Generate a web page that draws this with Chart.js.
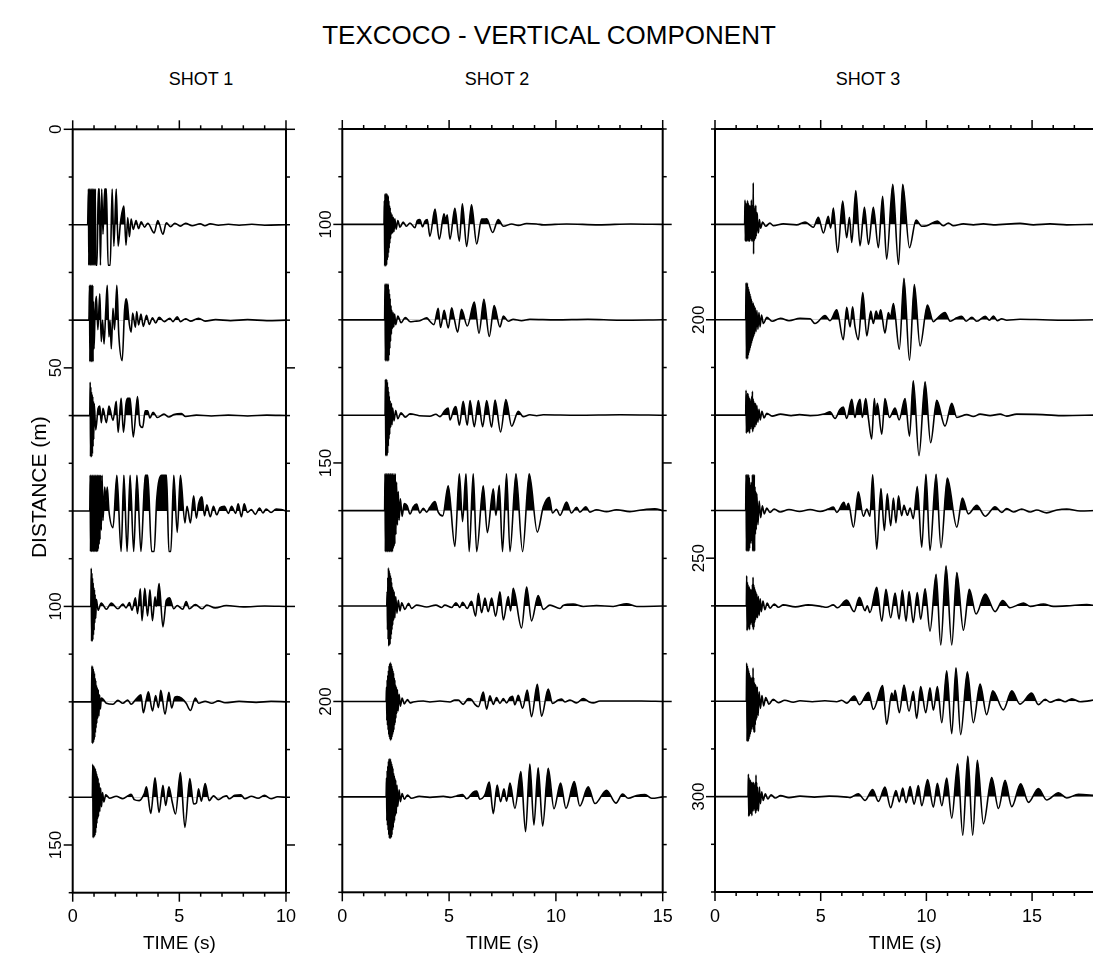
<!DOCTYPE html>
<html>
<head>
<meta charset="utf-8">
<script src="https://cdn.jsdelivr.net/npm/chart.js@4/dist/chart.umd.min.js"></script>
<style>
  body { margin: 0; background: #fff; width: 1093px; height: 960px; overflow: hidden; position: relative; font-family: 'Liberation Sans', Arial, sans-serif; color: #000; }
  .lbl { position: absolute; text-align: center; white-space: nowrap; }
  canvas { position: absolute; top: 100px; }
</style>
</head>
<body>
<div class="lbl" style="left:299px;width:500px;top:20px;font-size:26px">TEXCOCO - VERTICAL COMPONENT</div>
<div class="lbl" style="left:151px;width:100px;top:69px;font-size:18px">SHOT 1</div>
<div class="lbl" style="left:447px;width:100px;top:69px;font-size:18px">SHOT 2</div>
<div class="lbl" style="left:818px;width:100px;top:69px;font-size:18px">SHOT 3</div>
<canvas id="c1" width="310" height="860" style="left:0px"></canvas>
<canvas id="c2" width="390" height="860" style="left:300px"></canvas>
<canvas id="c3" width="440" height="860" style="left:680px"></canvas>
<script>
// trace offsets (m) and y tick labels for each shot
const shot1Dist = [20, 40, 60, 80, 100, 120, 140];
const shot2Dist = [100, 120, 140, 160, 180, 200, 220];
const shot3Dist = [180, 200, 220, 240, 260, 280, 300];
const shot1YLabels = [0, 50, 100, 150];
const shot2YLabels = [100, 150, 200];
const shot3YLabels = [200, 250, 300];
const xLabels = [0, 5, 10, 15];

// traces: [time (s), amplitude (m, up positive)]
const s1_20 = [[0,0],[0.7,0],[0.74,7.5],[0.755,-8.5],[0.77,7.5],[0.785,-8.5],[0.8,7.5],[0.815,-8.5],[0.83,7.5],[0.845,-8.5],[0.86,7.5],[0.875,-8.5],[0.89,7.5],[0.905,-8.5],[0.92,7.5],[0.935,-8.5],[0.95,7.5],[0.965,-8.5],[0.98,7.5],[1.0,-8.5],[1.02,7.5],[1.04,-8.5],[1.06,7.5],[1.08,-8.5],[1.14,-8.5],[1.2,7.5],[1.25,7.5],[1.3,-8.5],[1.36,7.5],[1.42,-2],[1.5,7.5],[1.58,7.5],[1.66,-8.5],[1.76,-8.5],[1.85,7.5],[1.93,-4.5],[2.04,7.5],[2.13,-4.5],[2.24,0.5],[2.4,3.9],[2.5,-4.3],[2.58,1.5],[2.66,-2.5],[2.74,1.2],[2.84,-1],[2.97,0.9],[3.09,-0.8],[3.21,0.6],[3.37,-0.5],[3.52,0.3],[3.82,-1.7],[3.99,0.9],[4.23,-2.0],[4.39,0.4],[4.59,-0.4],[4.79,0.3],[5.05,-0.3],[5.29,0.3],[5.6,-0.2],[5.98,0.2],[6.2,-0.2],[6.45,0.2],[6.83,-0.1],[7.3,0.1],[7.8,-0.1],[8.4,0.1],[9.0,-0.1],[10,0]];
const s1_40 = [[0,0],[0.76,0],[0.79,7.3],[0.805,-8.7],[0.82,7.3],[0.835,-8.7],[0.85,7.3],[0.865,-8.7],[0.88,7.3],[0.895,-8.7],[0.91,7.3],[0.925,-8.7],[0.94,7.3],[0.955,-8.7],[0.97,4],[1.0,-6],[1.05,2],[1.11,5],[1.18,-2],[1.27,5.5],[1.34,-4.5],[1.4,0],[1.47,-5],[1.55,2],[1.62,7.3],[1.7,-3.5],[1.75,0],[1.81,-6],[1.89,2.5],[1.96,-2],[2.07,7.3],[2.16,-3],[2.32,-8.5],[2.43,2],[2.5,4.5],[2.56,3.5],[2.66,-1],[2.74,-2.5],[2.81,1.5],[2.94,-1.5],[3.0,1.8],[3.09,-1],[3.2,1.3],[3.31,-1.3],[3.46,1],[3.59,-0.9],[3.74,0.5],[3.89,-0.6],[4.05,0.6],[4.3,-0.3],[4.55,0.4],[4.7,-0.3],[4.9,0.7],[5.05,-0.3],[5.29,0.3],[5.52,-0.2],[5.9,0.4],[6.21,-0.2],[6.7,0.1],[7.4,-0.1],[8.2,0.1],[9.1,-0.1],[10,0]];
const s1_60 = [[0,0],[0.8,0],[0.82,7],[0.835,-8.6],[0.85,6],[0.865,-8.6],[0.88,5],[0.895,-8.6],[0.91,4.5],[0.925,-8],[0.94,4],[0.955,-6.5],[0.97,3],[0.985,-5],[1.01,2.5],[1.08,-3],[1.19,1.5],[1.27,2],[1.34,-1.5],[1.42,1.5],[1.58,-1.5],[1.7,2],[1.89,-1],[2.04,3],[2.13,-3.5],[2.27,3.6],[2.38,-3.5],[2.5,2.5],[2.58,3.6],[2.69,3.6],[2.84,-4.5],[3.04,4],[3.15,-2],[3.28,-2.5],[3.4,1],[3.51,1],[3.62,-0.5],[3.77,0.7],[3.97,-0.4],[4.28,0.3],[4.51,-0.3],[4.74,0.2],[5.1,0.4],[5.29,-0.2],[5.8,0.1],[6.5,-0.1],[7.3,0.1],[8.2,-0.1],[9.1,0.1],[10,0]];
const s1_80 = [[0,0],[0.8,0],[0.82,7.5],[0.835,-8.5],[0.85,7.5],[0.865,-8.5],[0.88,7.5],[0.895,-8.5],[0.91,7.5],[0.925,-8.5],[0.94,7.5],[0.955,-8.5],[0.97,7.5],[0.985,-8.5],[1.0,7.5],[1.015,-8.5],[1.03,7.5],[1.045,-8.5],[1.06,7.5],[1.075,-8.5],[1.09,7.5],[1.105,-8.5],[1.12,7.5],[1.135,-8.5],[1.15,7.5],[1.165,-8.5],[1.18,7.5],[1.2,-8],[1.22,7.5],[1.24,-7],[1.26,7.5],[1.28,-6],[1.31,7.5],[1.34,-4],[1.38,7.5],[1.42,-2],[1.5,5],[1.56,2],[1.62,5],[1.7,0],[1.89,-3.5],[2.07,7.5],[2.27,-8.5],[2.4,7.5],[2.55,-8.5],[2.69,7.5],[2.86,-8.5],[3.01,7.5],[3.2,-8.5],[3.4,7.5],[3.52,7.5],[3.7,-8.5],[3.82,-8.5],[3.94,2.5],[4.17,7.5],[4.4,7.5],[4.51,-8.5],[4.6,-8.5],[4.74,7.5],[4.9,-4.5],[5.05,7.5],[5.26,-2.5],[5.36,1],[5.52,-2.5],[5.67,3.2],[5.8,-1.5],[5.9,1.5],[6.06,3],[6.18,-1],[6.29,1.3],[6.45,-1.2],[6.6,1],[6.75,-0.8],[6.91,0.7],[7.11,1],[7.3,-0.5],[7.45,1],[7.64,-0.5],[7.76,1.5],[7.91,-1.2],[8.04,1.5],[8.19,-0.3],[8.38,0.3],[8.56,-0.7],[8.76,0.6],[8.92,-0.4],[9.07,0.4],[9.3,-0.3],[9.54,0.4],[9.77,0.3],[10,0]];
const s1_100 = [[0,0],[0.85,0],[0.87,8],[0.885,-7.3],[0.9,7],[0.915,-7.3],[0.93,6],[0.945,-7],[0.96,5],[0.975,-6],[0.99,4],[1.005,-5],[1.02,3.5],[1.035,-3.5],[1.05,2.5],[1.08,-2.5],[1.11,1.5],[1.19,-0.8],[1.34,0.7],[1.58,-0.6],[1.81,0.7],[2.12,-0.5],[2.35,0.5],[2.5,-0.3],[2.66,0.8],[2.78,-0.8],[2.94,1.8],[3.04,-1.5],[3.17,3.7],[3.25,-3],[3.38,3.8],[3.51,-2],[3.62,3.5],[3.74,-3],[3.86,2],[3.92,0],[4.05,4.8],[4.23,-4.3],[4.39,1.3],[4.54,1.8],[4.74,-0.5],[4.9,0.2],[5.16,-0.6],[5.32,1],[5.47,-0.5],[5.75,0.4],[6.06,-0.5],[6.29,0.3],[6.68,-0.3],[7.2,0.2],[8,-0.1],[9,0.1],[10,0]];
const s1_120 = [[0,0],[0.88,0],[0.9,7.5],[0.915,-8.7],[0.93,7.5],[0.945,-8.7],[0.96,7],[0.975,-8.5],[0.99,6.5],[1.005,-8],[1.02,6],[1.035,-7.5],[1.05,5],[1.065,-6.5],[1.08,4.5],[1.095,-5.5],[1.11,3.5],[1.13,-4.5],[1.15,3],[1.17,-3.5],[1.2,2.5],[1.23,-3],[1.26,1.5],[1.3,-1.5],[1.34,0.8],[1.42,0.6],[1.58,-0.3],[1.89,-0.5],[2.12,0.3],[2.35,-0.3],[2.58,0.4],[2.74,-0.5],[2.97,0.6],[3.2,1.5],[3.31,-2.3],[3.45,0.5],[3.55,2.1],[3.74,-1.9],[3.89,1.3],[4.02,-1.2],[4.13,2.4],[4.33,-2.6],[4.51,2.0],[4.64,-1.3],[4.79,1],[4.9,1.1],[5.1,0.8],[5.32,-0.3],[5.52,-1.8],[5.75,0.8],[5.9,-0.3],[6.21,0.1],[6.52,-0.3],[6.83,0.2],[7.14,-0.2],[7.8,0.1],[8.6,-0.1],[9.3,0.1],[10,0]];
const s1_140 = [[0,0],[0.92,0],[0.94,6.9],[0.955,-8.5],[0.97,6.7],[0.985,-8.4],[1.0,6.5],[1.015,-8.3],[1.03,6.2],[1.045,-8],[1.06,6],[1.075,-7.5],[1.09,5.5],[1.105,-6.5],[1.12,5],[1.135,-5.5],[1.15,4.5],[1.17,-4.5],[1.19,4],[1.21,-4],[1.24,3],[1.27,-3],[1.31,2],[1.35,-2],[1.4,1],[1.46,-1],[1.55,0.5],[1.73,-0.2],[2.04,0.2],[2.35,-0.3],[2.58,0.3],[2.74,0.6],[2.89,-0.5],[3.12,-0.7],[3.35,0.7],[3.46,2.2],[3.66,-3.4],[3.86,4.1],[4.05,-3.2],[4.23,2.5],[4.36,-1.7],[4.51,2.2],[4.67,-1.1],[4.82,-3.5],[5.05,5.2],[5.26,-6.3],[5.49,3.9],[5.67,-1.4],[5.8,-1.2],[5.9,1.8],[6.03,-0.8],[6.21,2.9],[6.4,-0.7],[6.6,0.3],[6.83,-0.5],[7.06,0.1],[7.22,0.3],[7.33,-0.3],[7.6,0.4],[7.88,0.5],[8.07,-0.3],[8.38,0.2],[8.69,-0.2],[8.99,0.4],[9.3,-0.3],[9.61,0.1],[10,0]];

const s2_100 = [[0,0],[1.95,0],[1.97,5],[1.985,-8.7],[2.0,6.4],[2.015,-8.7],[2.03,6.4],[2.045,-8.7],[2.06,6.4],[2.075,-8.5],[2.09,6.4],[2.105,-7.5],[2.12,6.2],[2.135,-7],[2.15,6],[2.165,-6],[2.18,5],[2.195,-5],[2.21,4],[2.225,-4],[2.24,3.5],[2.26,-3],[2.28,2.5],[2.3,-2],[2.33,2],[2.36,-1.8],[2.39,1.5],[2.42,-1.5],[2.46,1.2],[2.52,-1],[2.6,0.8],[2.7,-0.6],[2.85,0.5],[3.0,-0.4],[3.17,0.3],[3.4,-0.7],[3.51,0.8],[3.63,1.0],[3.76,-0.5],[3.87,0.7],[3.98,1],[4.1,-2.5],[4.34,3.2],[4.54,-3.1],[4.76,2.2],[4.84,0.8],[4.91,2.0],[5.04,-3.1],[5.27,3.4],[5.48,-3.5],[5.62,4.3],[5.82,-4.6],[6.05,4.1],[6.29,-4.1],[6.52,1.1],[6.63,1.1],[6.76,1.2],[7.04,-1.7],[7.3,1],[7.54,-0.4],[7.93,0.1],[8.24,-0.2],[8.63,0.2],[9.1,0.1],[9.41,-0.1],[10.5,0.1],[12,-0.1],[13.5,0.1],[15,0]];
const s2_120 = [[0,0],[1.98,0],[2.0,7.5],[2.015,-8.6],[2.03,7.5],[2.045,-8.6],[2.06,7.5],[2.075,-8.6],[2.09,7.5],[2.105,-8.6],[2.12,7.5],[2.135,-8.6],[2.15,7.5],[2.165,-8.6],[2.18,6.5],[2.195,-7.5],[2.21,5.5],[2.225,-6],[2.24,4.5],[2.26,-4.5],[2.28,3],[2.3,-3],[2.32,2],[2.35,-1.8],[2.38,1.5],[2.41,-1.5],[2.45,1.2],[2.5,-1],[2.6,0.8],[2.75,-0.6],[2.95,0.5],[3.17,-0.4],[3.4,-0.3],[3.63,-0.2],[3.95,0.4],[4.1,-0.3],[4.29,-1],[4.49,2.4],[4.6,-1.6],[4.77,2],[4.96,-1.7],[5.12,2.5],[5.23,0.5],[5.4,-2.6],[5.58,2.2],[5.85,-1.3],[6.18,3.7],[6.4,-2.8],[6.63,4.3],[6.88,-3.5],[7.11,3.0],[7.38,-1.5],[7.54,0.8],[7.77,-0.3],[8.0,0.1],[8.39,-0.2],[8.78,0.1],[10,0],[11.5,0.1],[13,-0.1],[15,0]];
const s2_140 = [[0,0],[2.0,0],[2.02,7.5],[2.035,-8.5],[2.05,7.5],[2.065,-8.5],[2.08,7.5],[2.095,-8.5],[2.11,7],[2.125,-8],[2.14,6],[2.155,-6.5],[2.17,5],[2.185,-5],[2.2,4],[2.22,-4],[2.24,3],[2.27,-2.5],[2.3,2.5],[2.33,-2],[2.36,1.5],[2.42,-1.2],[2.5,1],[2.6,-0.7],[2.75,0.5],[2.95,-0.4],[3.17,0.3],[3.6,-0.1],[4.1,-0.2],[4.38,0.2],[4.57,-0.3],[4.8,1],[4.96,1.5],[5.04,-1],[5.23,1.4],[5.32,1.8],[5.48,-2.1],[5.66,2.9],[5.85,-2.1],[5.98,3.1],[6.18,-2.4],[6.37,3.1],[6.57,-2.4],[6.76,3.1],[6.99,-2.5],[7.15,3.2],[7.41,-3.5],[7.66,3.3],[7.93,-2.3],[8.24,0.8],[8.47,-0.3],[8.78,0.1],[9.1,-0.1],[9.41,0.1],[11,0],[13,0.1],[15,0]];
const s2_160 = [[0,0],[1.98,0],[2.0,7.7],[2.015,-8.6],[2.03,7.7],[2.045,-8.6],[2.06,7.7],[2.075,-8.6],[2.09,7.7],[2.105,-8.6],[2.12,7.7],[2.135,-8.6],[2.15,7.7],[2.165,-8.6],[2.18,7.7],[2.195,-8.6],[2.21,7.7],[2.225,-8.6],[2.24,7.7],[2.255,-8.6],[2.27,7.7],[2.285,-8.6],[2.3,7.7],[2.315,-8.6],[2.33,7.7],[2.345,-8.6],[2.36,7.7],[2.38,-8],[2.4,7.7],[2.42,-7.5],[2.44,7.7],[2.46,-7],[2.48,7.7],[2.51,-5],[2.54,6],[2.58,-3],[2.62,4],[2.66,-2],[2.72,2.5],[2.8,-1.2],[2.9,1.5],[3.04,1],[3.17,-0.7],[3.32,0.8],[3.48,1.4],[3.63,-0.5],[3.79,0.5],[3.95,-0.3],[4.1,0.7],[4.34,1.9],[4.49,-0.3],[4.7,-1.1],[4.96,5.2],[5.27,-7.5],[5.48,7.7],[5.63,-2.3],[5.79,7.7],[5.94,-8.6],[6.13,7.7],[6.29,-8.6],[6.6,5.2],[6.79,-4.6],[7.07,4.6],[7.19,-1],[7.35,5.3],[7.5,-8.6],[7.69,7.7],[7.85,-8.6],[8.13,7.7],[8.44,-8.6],[8.75,7.7],[9.13,-4.5],[9.41,0.8],[9.69,2.8],[9.84,-0.5],[10.03,0.3],[10.19,-1],[10.5,1.8],[10.73,-0.5],[10.97,0.7],[11.12,-0.3],[11.4,0.8],[11.59,-0.3],[11.9,0.2],[12.37,-0.2],[12.84,0.2],[13.46,-0.2],[14.24,0.3],[14.63,0.4],[15,0]];
const s2_180 = [[0,0],[2.08,0],[2.1,3],[2.115,-5],[2.13,6],[2.145,-7],[2.16,8],[2.175,-8.4],[2.19,7.5],[2.205,-8.2],[2.22,7],[2.235,-8],[2.25,6.5],[2.265,-7],[2.28,6],[2.295,-6],[2.31,5],[2.325,-5],[2.34,4],[2.36,-4],[2.38,3.5],[2.4,-3],[2.43,3],[2.46,-2.5],[2.5,2],[2.56,-1.5],[2.62,1.2],[2.7,-1],[2.78,0.7],[2.93,-0.7],[3.1,0.6],[3.24,-0.5],[3.48,0.2],[3.95,-0.2],[4.38,0.2],[4.65,-0.3],[4.8,0.2],[5.12,-0.3],[5.32,0.7],[5.51,-0.3],[5.63,0.8],[5.85,-0.5],[6.05,1.0],[6.24,-2.1],[6.37,2.7],[6.52,-1.4],[6.68,1.7],[6.83,-1.2],[6.99,1.7],[7.18,-2.1],[7.38,3.0],[7.54,-2.9],[7.77,2.0],[7.88,-1],[8.0,3.7],[8.39,-4.6],[8.63,4.0],[8.86,-3.1],[9.17,2.2],[9.41,-0.7],[9.72,0.2],[10.19,-0.5],[10.34,0.1],[10.81,0.4],[11.28,-0.1],[11.9,0.1],[12.68,-0.1],[13.31,0.5],[13.78,-0.1],[15,0]];
const s2_200 = [[0,0],[2.05,0],[2.07,3],[2.085,-4],[2.1,4.5],[2.115,-5],[2.13,5.5],[2.145,-6],[2.16,6.5],[2.175,-7],[2.19,7.5],[2.205,-7.5],[2.22,8],[2.235,-8],[2.25,8.2],[2.265,-8.2],[2.28,8],[2.295,-8],[2.31,7.5],[2.325,-7.5],[2.34,7],[2.355,-7],[2.37,6.5],[2.385,-6.5],[2.4,6],[2.415,-6],[2.43,5],[2.445,-5],[2.46,4.5],[2.475,-4.5],[2.49,3.5],[2.51,-3.5],[2.53,3],[2.55,-2.5],[2.58,2.5],[2.61,-2],[2.66,1.5],[2.72,-1],[2.8,0.7],[2.9,-0.5],[3.05,0.4],[3.17,-0.3],[3.32,-0.1],[3.79,0.1],[4.1,-0.1],[4.57,0.1],[5.04,-0.1],[5.27,0.3],[5.43,0.3],[5.66,-0.6],[5.9,0.6],[6.05,0.4],[6.21,-0.6],[6.37,-1.1],[6.6,2.0],[6.76,-1.6],[6.91,1.2],[7.07,-0.6],[7.22,0.8],[7.38,-0.4],[7.54,0.6],[7.69,-0.3],[7.85,0.8],[7.97,1.1],[8.08,-0.7],[8.24,1.3],[8.44,-1.4],[8.66,2.4],[8.86,-3.2],[9.13,3.6],[9.33,-3.1],[9.64,2.6],[9.84,-0.4],[10.11,0.3],[10.27,0.5],[10.42,-0.1],[10.66,0.3],[10.97,-0.3],[11.28,0.6],[11.56,-0.1],[11.75,-0.3],[12.06,0.1],[13,0.1],[14,0.1],[15,0]];
const s2_220 = [[0,0],[2.05,0],[2.07,4],[2.085,-5],[2.1,5.5],[2.115,-6],[2.13,6.5],[2.145,-7],[2.16,7.5],[2.175,-8],[2.19,8],[2.205,-8.7],[2.22,8],[2.235,-8.7],[2.25,8],[2.265,-8.7],[2.28,7.5],[2.295,-8.5],[2.31,7],[2.325,-8],[2.34,6.5],[2.355,-7],[2.37,6],[2.385,-6.5],[2.4,5],[2.415,-5.5],[2.43,4.5],[2.445,-5],[2.46,4],[2.48,-4],[2.5,3.5],[2.53,-3.5],[2.56,2.5],[2.6,-2],[2.66,1.5],[2.72,-1],[2.8,0.7],[2.9,-0.5],[3.05,0.4],[3.24,-0.3],[3.6,0.1],[4.1,-0.1],[4.73,0.1],[5.04,-0.1],[5.35,0.2],[5.63,0.5],[5.82,-0.4],[6.13,1.0],[6.29,1.2],[6.44,-0.5],[6.68,0.5],[6.88,3.1],[7.07,-3.5],[7.25,2.5],[7.41,-1],[7.57,1.7],[7.69,-0.9],[7.85,2.9],[8.08,-2.4],[8.36,5.3],[8.58,-7.3],[8.78,6.9],[8.97,-5.9],[9.17,6.1],[9.38,-6.1],[9.64,6.0],[9.91,-2.5],[10.22,2.9],[10.47,-2.4],[10.86,3.2],[11.12,-1.9],[11.51,2.1],[11.83,-1.4],[12.37,1.4],[12.81,-1.3],[13.12,0.6],[13.39,-0.3],[13.78,0.3],[14.17,0.5],[14.48,-0.3],[15,0]];

const s3_180 = [[0,0],[1.4,0],[1.42,5.1],[1.435,-3.5],[1.45,4.5],[1.465,-3.5],[1.48,4],[1.495,-3.5],[1.51,4.5],[1.525,-3.5],[1.54,5],[1.555,-3],[1.57,4.5],[1.585,-3.5],[1.6,4],[1.615,-3.5],[1.63,4],[1.645,-3.5],[1.66,3.5],[1.675,-3],[1.69,4],[1.705,-3],[1.72,5.1],[1.735,-3.5],[1.75,4],[1.765,-3.5],[1.78,4],[1.795,-3],[1.81,8.7],[1.825,-6.2],[1.84,4],[1.855,-3.5],[1.87,3],[1.885,-3],[1.9,3.5],[1.915,-3],[1.93,4],[1.95,-2.5],[1.97,2.5],[2.0,2],[2.03,-1.8],[2.06,-1.5],[2.1,1],[2.16,-0.8],[2.25,0.5],[2.4,-0.4],[2.6,0.3],[2.76,-0.3],[3.23,0.1],[3.86,-0.1],[4.26,0.5],[4.5,-0.2],[4.65,-0.6],[4.89,1.5],[5.13,-1.8],[5.36,1.7],[5.47,-0.8],[5.6,3.4],[5.8,-5.9],[6.04,4.9],[6.23,-2.8],[6.36,1.5],[6.47,-3.8],[6.66,7.1],[6.86,-4.5],[7.07,3.6],[7.26,-4.2],[7.49,3.6],[7.73,-4.9],[7.93,5.9],[8.12,-7.3],[8.41,8.4],[8.68,-8.4],[8.88,8.4],[9.2,-4.9],[9.51,0.9],[9.78,-0.4],[10.02,-0.3],[10.52,0.7],[10.8,-0.3],[11.04,0.3],[11.28,-0.3],[11.75,0.1],[12.22,-0.1],[12.7,0.1],[13.17,-0.1],[14.43,0.2],[15.06,-0.1],[15.85,0.1],[16.64,-0.1],[18,0]];
const s3_200 = [[0,0],[1.45,0],[1.47,7.7],[1.485,-8.2],[1.5,7.7],[1.515,-8.2],[1.53,7.7],[1.545,-8.2],[1.56,7],[1.575,-7.5],[1.59,6.5],[1.605,-7],[1.62,6],[1.635,-6.5],[1.65,5.5],[1.665,-6],[1.68,5],[1.695,-5.5],[1.71,4.5],[1.725,-5],[1.74,4],[1.755,-4.5],[1.77,3.5],[1.79,-4],[1.81,3.5],[1.83,-3.5],[1.85,3],[1.87,-3],[1.9,2.5],[1.94,-2.5],[1.98,2],[2.03,-2],[2.08,1.5],[2.13,-1.5],[2.2,1],[2.29,-0.8],[2.45,0.5],[2.7,-0.3],[3.1,0.3],[3.5,-0.2],[4.02,0.3],[4.5,0.2],[4.73,-0.8],[5.21,0.9],[5.44,-0.2],[5.76,2.1],[6.07,-4.2],[6.23,2.6],[6.39,-1.5],[6.51,2.7],[6.62,-1.4],[6.78,-4.2],[6.99,5.7],[7.18,-3.4],[7.37,1.8],[7.49,-0.8],[7.62,1.8],[7.73,0.5],[7.84,2.1],[8.04,-2.8],[8.2,1.5],[8.3,0.5],[8.44,3.4],[8.72,-6.2],[8.94,8.7],[9.2,-8.5],[9.43,7.4],[9.7,-5.5],[10.05,3.1],[10.33,-0.4],[10.49,0.2],[10.88,1.5],[11.12,-0.3],[11.44,0.4],[11.67,0.7],[11.88,-0.3],[12.15,0.5],[12.38,-0.3],[12.78,0.7],[12.98,-0.1],[13.17,0.8],[13.36,-0.2],[13.56,0.2],[13.8,-0.1],[14.43,0.1],[15.5,0],[16.5,-0.1],[18,0]];
const s3_220 = [[0,0],[1.45,0],[1.47,5.2],[1.485,-3.8],[1.5,4],[1.515,-3.5],[1.53,4.5],[1.545,-3.5],[1.56,4.5],[1.575,-3],[1.59,4],[1.605,-3.5],[1.62,3.5],[1.635,-3.8],[1.65,3.5],[1.665,-3],[1.68,3],[1.695,-2.5],[1.71,3],[1.725,-2.5],[1.74,4],[1.755,-3],[1.77,5],[1.785,-3.5],[1.8,3.5],[1.815,-3],[1.83,3],[1.85,-2.5],[1.87,2.5],[1.89,-2.5],[1.92,2.5],[1.95,-2],[1.98,2],[2.03,-1.5],[2.08,1.2],[2.14,-1],[2.22,0.8],[2.32,-0.6],[2.45,0.4],[2.7,-0.2],[3.1,0.2],[3.6,-0.1],[4.0,0.1],[4.5,-0.1],[5.21,0.3],[5.44,0.7],[5.68,-0.7],[5.91,1.2],[6.07,1.7],[6.23,-0.7],[6.47,3.3],[6.62,-0.5],[6.73,1.9],[6.86,3.3],[6.97,-0.5],[7.13,3.5],[7.26,-0.8],[7.41,-5],[7.54,3.5],[7.6,0],[7.68,2.5],[7.89,-4],[8.04,3.5],[8.25,-0.5],[8.52,1.5],[8.71,-1],[8.99,3.5],[9.2,-4.4],[9.38,7.2],[9.65,-8.5],[9.94,7.0],[10.2,-5.8],[10.49,3.1],[10.88,-2.3],[11.2,2.5],[11.44,-0.5],[11.91,0.1],[12.22,-0.3],[12.54,0.2],[13.01,-0.1],[13.49,0.2],[13.8,-0.2],[14.27,0.2],[15.5,0.1],[16.5,-0.1],[18,0]];
const s3_240 = [[0,0],[1.45,0],[1.47,7.5],[1.485,-8.5],[1.5,7.5],[1.515,-8.5],[1.53,7.5],[1.545,-8.5],[1.56,7.5],[1.575,-8.5],[1.59,7.5],[1.605,-8.5],[1.62,7],[1.635,-8],[1.65,6],[1.665,-7],[1.68,5.5],[1.695,-6.5],[1.71,5],[1.725,-6],[1.74,6],[1.755,-7],[1.77,7.5],[1.785,-8.5],[1.8,7.5],[1.815,-8.5],[1.83,7.5],[1.845,-8.5],[1.86,7.5],[1.875,-8.5],[1.89,5],[1.91,-5],[1.93,4],[1.95,-4],[1.98,3.5],[2.03,-3],[2.09,2],[2.16,-1.5],[2.24,1],[2.33,-0.7],[2.45,0.5],[2.6,-0.4],[2.8,0.3],[3.08,-0.3],[3.5,0.2],[4.0,-0.2],[4.5,0.2],[4.97,-0.2],[5.36,0.3],[5.6,0.7],[5.76,-0.4],[6.1,1.7],[6.2,0.5],[6.31,1.5],[6.55,-3.5],[6.78,3.9],[7.02,-1.2],[7.18,0.3],[7.33,-1.2],[7.46,7.5],[7.65,-8.1],[7.85,4.6],[8.01,-4.2],[8.15,3.5],[8.31,-3.2],[8.44,2.6],[8.56,-2.6],[8.68,3.1],[8.83,-1.1],[8.94,1.1],[9.1,-1],[9.23,0.5],[9.38,-1.7],[9.57,5.0],[9.78,-7.7],[9.98,7.6],[10.17,-8.4],[10.46,7.6],[10.69,-7.8],[10.99,6.8],[11.44,-3.5],[11.7,2.6],[11.99,-0.7],[12.38,1.1],[12.78,-1.2],[13.25,0.8],[13.56,-0.4],[13.8,0.4],[14.12,-0.3],[14.51,0.3],[14.91,-0.3],[15.22,0.1],[15.69,-0.5],[16.17,0.1],[16.64,0.3],[17.27,-0.1],[18,0]];
const s3_260 = [[0,0],[1.48,0],[1.5,6.3],[1.515,-5.2],[1.53,5],[1.545,-5],[1.56,4.5],[1.575,-4.5],[1.59,4],[1.605,-4.5],[1.62,4],[1.635,-5],[1.65,3.5],[1.665,-4],[1.68,3.5],[1.695,-3.5],[1.71,3],[1.725,-3.5],[1.74,3.5],[1.755,-4],[1.77,4.5],[1.785,-4.5],[1.8,6],[1.815,-5],[1.83,4.5],[1.845,-4.5],[1.86,4],[1.875,-3.5],[1.89,3.5],[1.91,-3],[1.93,3],[1.95,-2.5],[1.98,2.5],[2.01,-2.5],[2.05,2],[2.09,-2],[2.14,1.5],[2.19,-1.2],[2.27,1],[2.36,-0.8],[2.47,0.6],[2.6,-0.5],[2.8,0.4],[3.0,-0.3],[3.23,0.2],[3.8,-0.2],[4.4,0.2],[5.0,-0.1],[5.28,-0.3],[5.6,0.2],[5.79,-0.4],[6.23,1.2],[6.58,-1.2],[6.83,1.8],[7.1,-1.0],[7.2,0],[7.33,-1.4],[7.65,3.9],[7.89,-3.2],[8.09,3.5],[8.31,-2.5],[8.52,2.7],[8.71,-2.8],[8.86,3.3],[9.04,-3.2],[9.18,3.0],[9.38,-3.5],[9.57,2.8],[9.73,-2.8],[9.94,3.6],[10.17,-5.3],[10.46,6.6],[10.68,-8.2],[10.93,8.4],[11.2,-8.2],[11.44,7.0],[11.75,-5.1],[12.03,3.5],[12.35,-1.7],[12.78,2.5],[13.25,-1.2],[13.61,1.1],[13.96,-0.4],[14.27,0.1],[14.59,0.6],[14.91,-0.1],[15.54,0.4],[16.01,-0.1],[16.64,0],[17.59,0.3],[18,0]];
const s3_280 = [[0,0],[1.48,0],[1.5,8],[1.515,-8.4],[1.53,7.5],[1.545,-8.4],[1.56,7],[1.575,-8.4],[1.59,6.5],[1.605,-8],[1.62,6],[1.635,-7.5],[1.65,5.5],[1.665,-7],[1.68,5],[1.695,-6.5],[1.71,5],[1.725,-6],[1.74,4.5],[1.755,-5.5],[1.77,5],[1.785,-5],[1.8,7],[1.815,-6],[1.83,5],[1.845,-6.5],[1.86,4],[1.875,-6.5],[1.89,3.5],[1.905,-5],[1.92,3.5],[1.94,-4],[1.96,3],[1.98,-3.5],[2.0,3],[2.04,-3],[2.09,2],[2.15,-1.5],[2.22,1.2],[2.3,-1],[2.4,0.8],[2.55,-0.6],[2.75,0.4],[3.0,-0.3],[3.3,0.2],[3.7,-0.2],[4.02,0.1],[4.6,-0.1],[5.2,0.1],[5.76,-0.1],[5.99,0.2],[6.23,-0.4],[6.59,1.1],[6.83,-0.7],[7.26,1.9],[7.49,-1.7],[7.93,3.3],[8.12,-4.8],[8.36,1.7],[8.45,0.5],[8.52,2.3],[8.72,-2.4],[8.94,3.4],[9.18,-2.1],[9.38,2.1],[9.54,-3.6],[9.73,3.1],[9.97,-2.4],[10.17,2.8],[10.33,-1.9],[10.52,3.1],[10.73,-4.5],[10.96,6.4],[11.2,-6.8],[11.4,7.0],[11.62,-7.0],[11.94,6.2],[12.22,-4.5],[12.54,3.6],[12.85,-2.8],[13.14,2.2],[13.64,-1.8],[14.04,2.2],[14.43,-0.6],[14.98,1.7],[15.3,-0.7],[15.62,0.4],[15.85,-0.2],[16.25,0.4],[16.56,-0.1],[16.88,0.5],[17.27,-0.1],[18,0.3]];
const s3_300 = [[0,0],[1.56,0],[1.58,4.7],[1.595,-4.1],[1.61,4],[1.625,-4],[1.64,3.5],[1.655,-3.5],[1.67,3.5],[1.685,-3.5],[1.7,3],[1.715,-3.5],[1.73,3],[1.745,-4],[1.76,2.5],[1.775,-3],[1.79,3],[1.805,-3],[1.82,3],[1.835,-2.5],[1.85,2.5],[1.865,-2.5],[1.88,2.5],[1.895,-3],[1.91,3],[1.925,-3.5],[1.94,4.5],[1.955,-3],[1.97,3],[1.99,-2.5],[2.01,2],[2.03,-2.5],[2.06,-3],[2.1,2],[2.15,-1.5],[2.21,1],[2.28,-0.8],[2.38,0.6],[2.5,-0.5],[2.65,0.4],[2.85,-0.3],[3.1,0.2],[3.5,-0.2],[4.02,0.1],[4.7,-0.1],[5.4,0.1],[6.23,-0.1],[6.39,-0.2],[6.78,0.6],[7.1,-0.8],[7.46,1.5],[7.73,-1.0],[8.04,2.0],[8.31,-2.3],[8.56,1.3],[8.72,-1.1],[8.88,1.8],[9.04,-1.3],[9.23,2.1],[9.42,-1.6],[9.62,2.3],[9.78,-1.9],[10.06,3.6],[10.33,-2.2],[10.52,2.8],[10.73,-1.9],[10.96,3.9],[11.2,-4.5],[11.48,6.9],[11.72,-8.1],[11.96,8.5],[12.19,-8.1],[12.41,7.6],[12.7,-5.7],[13.09,4.0],[13.41,-2.5],[13.72,3.4],[14.04,-2.1],[14.46,2.7],[14.83,-1.2],[15.3,1.7],[15.69,-0.7],[16.25,0.8],[16.64,-0.3],[17.19,0.5],[18,0.2]];

const shot1Traces = [s1_20, s1_40, s1_60, s1_80, s1_100, s1_120, s1_140];
const shot2Traces = [s2_100, s2_120, s2_140, s2_160, s2_180, s2_200, s2_220];
const shot3Traces = [s3_180, s3_200, s3_220, s3_240, s3_260, s3_280, s3_300];

const FONT = "'Liberation Sans', Arial, sans-serif";

// frame, tick marks and rotated distance labels, all placed through the chart scales
const framePlugin = {
  id: 'frame',
  afterDraw(chart, args, opts) {
    const { ctx, chartArea: a, scales: { x, y } } = chart;
    const seg = (x1, y1, x2, y2) => { ctx.beginPath(); ctx.moveTo(x1, y1); ctx.lineTo(x2, y2); ctx.stroke(); };
    ctx.save();
    ctx.strokeStyle = '#000';
    ctx.lineWidth = 1.5;
    for (let t = Math.ceil(x.min); t <= x.max; t++) {
      const px = x.getPixelForValue(t);
      const len = t % 5 === 0 ? 9 : 4;
      seg(px, a.top, px, a.top - len);
      seg(px, a.bottom, px, a.bottom + len);
    }
    for (let v = Math.ceil(y.min / 10) * 10; v <= y.max; v += 10) {
      const py = y.getPixelForValue(v);
      const len = v % 50 === 0 ? 9 : 4;
      seg(a.left, py, a.left - len, py);
      seg(a.right, py, a.right + len, py);
    }
    ctx.lineWidth = 2;
    ctx.strokeRect(a.left, a.top, a.right - a.left, a.bottom - a.top);
    ctx.fillStyle = '#000';
    ctx.textAlign = 'center';
    ctx.textBaseline = 'middle';
    ctx.font = '17px ' + FONT;
    opts.yLabels.forEach(v => {
      ctx.save();
      ctx.translate(a.left - 16, y.getPixelForValue(v));
      ctx.rotate(-Math.PI / 2);
      ctx.fillText(String(v), 0, 0);
      ctx.restore();
    });
    if (opts.yTitle) {
      ctx.font = '21px ' + FONT;
      ctx.save();
      ctx.translate(a.left - 32, y.getPixelForValue(opts.yTitleAt));
      ctx.rotate(-Math.PI / 2);
      ctx.fillText(opts.yTitle, 0, 0);
      ctx.restore();
    }
    ctx.restore();
  }
};

function makePanel(id, traces, dist, xMax, yMin, yMax, yLabels, box, yTitle) {
  const datasets = traces.map((tr, i) => ({
    data: tr.map(p => ({ x: p[0], y: dist[i] - p[1] })),
    borderColor: '#000',
    borderWidth: 1.6,
    pointRadius: 0,
    cubicInterpolationMode: 'monotone',
    fill: { target: { value: dist[i] }, above: '#000', below: 'rgba(0,0,0,0)' }
  }));
  return new Chart(document.getElementById(id), {
    type: 'line',
    data: { datasets },
    plugins: [framePlugin],
    options: {
      responsive: false,
      animation: false,
      events: [],
      layout: { padding: { left: 0, top: box.top, right: box.right, bottom: 0 } },
      plugins: {
        legend: { display: false },
        tooltip: { enabled: false },
        frame: { yLabels, yTitle, yTitleAt: 75 }
      },
      scales: {
        x: {
          type: 'linear', min: 0, max: xMax,
          afterFit: s => { s.height = box.bottom; },
          grid: { display: false, drawTicks: false },
          border: { display: false },
          ticks: {
            stepSize: 5, autoSkip: false, maxRotation: 0, color: '#000', padding: 14,
            font: { family: FONT, size: 18 },
            callback: v => xLabels.includes(v) ? String(v) : ''
          },
          title: { display: true, text: 'TIME (s)', color: '#000', font: { family: FONT, size: 19 }, padding: { top: 0, bottom: 5 } }
        },
        y: {
          type: 'linear', reverse: true, min: yMin, max: yMax,
          afterFit: s => { s.width = box.left; },
          grid: { display: false, drawTicks: false },
          border: { display: false },
          ticks: { display: false }
        }
      }
    }
  });
}

makePanel('c1', shot1Traces, shot1Dist, 10, 0, 160, shot1YLabels, { left: 72.7, top: 29.3, right: 21.7, bottom: 67.3 }, 'DISTANCE (m)');
makePanel('c2', shot2Traces, shot2Dist, 15, 80, 240, shot2YLabels, { left: 42.3, top: 29, right: 27.3, bottom: 67.7 });
makePanel('c3', shot3Traces, shot3Dist, 18, 160, 320, shot3YLabels, { left: 35, top: 29, right: 24.5, bottom: 68 });
</script>
</body>
</html>
